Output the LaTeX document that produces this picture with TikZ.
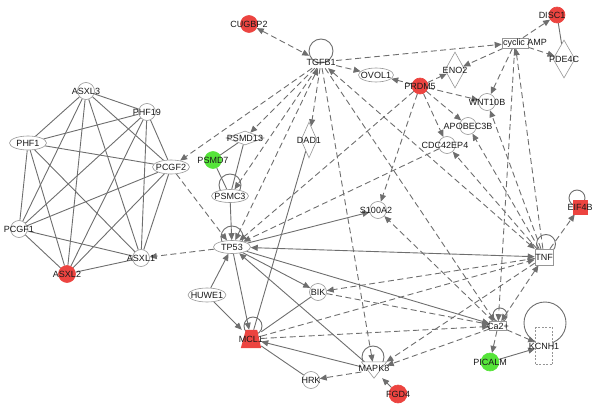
\documentclass[tikz,border=0pt]{standalone}
\usepackage{fontspec}
\setmainfont{Liberation Sans}
\usetikzlibrary{arrows.meta,shapes.geometric,backgrounds,calc}
\definecolor{ln}{RGB}{110,110,110}
\definecolor{bd}{RGB}{150,150,150}
\definecolor{nred}{RGB}{236,68,64}
\definecolor{ngreen}{RGB}{86,228,58}
\definecolor{txt}{RGB}{25,25,25}
\begin{document}
\begin{tikzpicture}[x=1pt,y=-1pt,
  base/.style={draw=bd, fill=white, inner sep=0pt, line width=0.6pt},
  gc/.style={base, circle, minimum size=17pt},
  rc/.style={gc, fill=nred, draw=nred},
  grc/.style={gc, fill=ngreen, draw=ngreen},
  ge/.style={base, ellipse, minimum width=37pt, minimum height=14pt},
  gd/.style={base, diamond},
  hid/.style={inner sep=0pt, rectangle},
  lbl/.style={font=\fontsize{9}{10}\selectfont, text=txt, inner sep=0pt},
  sol/.style={draw=ln, line width=0.9pt},
  das/.style={sol, dash pattern=on 6pt off 3.5pt},
  fw/.style={-{Triangle[length=7pt,width=6pt]}},
  bi/.style={{Triangle[length=7pt,width=6pt]}-{Triangle[length=7pt,width=6pt]}},
  lp/.style={draw=ln, line width=0.9pt}
]
\useasboundingbox (0,0) rectangle (600,412);

% left cluster
\node[gc, label={[lbl]center:ASXL3}] (asxl3) at (86,91) {};
\node[gc, label={[lbl]center:PHF19}] (phf19) at (147,112) {};
\node[ge, label={[lbl]center:PHF1}] (phf1) at (28,143) {};
\node[ge, label={[lbl]center:PCGF2}] (pcgf2) at (171,167) {};
\node[gc, label={[lbl]center:PCGF1}] (pcgf1) at (19,229) {};
\node[rc, label={[lbl]center:ASXL2}] (asxl2) at (67,274) {};
\node[gc, label={[lbl]center:ASXL1}] (asxl1) at (141,258) {};

% upper middle
\node[rc, label={[lbl]center:CUGBP2}] (cugbp2) at (249,24) {};
\node[hid, minimum width=30pt, minimum height=12pt, label={[lbl]center:TGFB1}] (tgfb1) at (321,62) {};
\node[ge, minimum width=35pt, label={[lbl]center:OVOL1}] (ovol1) at (376,75) {};
\node[rc, minimum size=16pt, label={[lbl]center:PRDM5}] (prdm5) at (420,86) {};
\node[gd, minimum width=20pt, minimum height=36pt, label={[lbl]center:ENO2}] (eno2) at (455,70) {};
\node[base, rectangle, minimum width=26pt, minimum height=10pt, label={[lbl,xshift=10pt]center:cyclic AMP}] (camp) at (515,43) {};
\node[rc, minimum size=16pt, label={[lbl,xshift=-5pt]center:DISC1}] (disc1) at (557,15) {};
\node[gd, minimum width=22pt, minimum height=38pt, label={[lbl]center:PDE4C}] (pde4c) at (564,59) {};
\node[gc, label={[lbl]center:WNT10B}] (wnt10b) at (487,102) {};
\node[gc, label={[lbl]center:APOBEC3B}] (apobec3b) at (468,126) {};
\node[gc, label={[lbl,xshift=-2pt]center:CDC42EP4}] (cdc42ep4) at (447,145) {};
\node[gc, label={[lbl,xshift=-2pt]center:S100A2}] (s100a2) at (378,210) {};

% proteasome group
\node[gd, minimum width=38pt, minimum height=14pt, label={[lbl]center:PSMD13}] (psmd13) at (245,138) {};
\node[grc, label={[lbl]center:PSMD7}] (psmd7) at (213,160) {};
\node[ge, minimum height=13pt, label={[lbl]center:PSMC3}] (psmc3) at (230,196) {};
\node[gd, minimum width=16pt, minimum height=36pt, label={[lbl]center:DAD1}] (dad1) at (309,140) {};

% lower middle
\node[ge, minimum height=13pt, label={[lbl]center:TP53}] (tp53) at (232,247) {};
\node[ge, minimum width=38pt, label={[lbl]center:HUWE1}] (huwe1) at (207,295) {};
\node[gc, label={[lbl]center:BIK}] (bik) at (318,292) {};
\node[hid, minimum width=20pt, minimum height=18pt, label={[lbl]center:MCL1}] (mcl1) at (251,339) {};
\node[gc, label={[lbl]center:HRK}] (hrk) at (311,380) {};
\node[hid, minimum width=25pt, minimum height=16pt, label={[lbl,yshift=2pt]center:MAPK8}] (mapk8) at (374,370) {};
\node[rc, minimum size=18pt, label={[lbl]center:FGD4}] (fgd4) at (398,394) {};

% right side
\node[base, rectangle, minimum width=17pt, minimum height=9pt, label={[lbl]center:Ca2+}] (ca) at (498,326) {};
\node[grc, minimum size=18pt, label={[lbl]center:PICALM}] (picalm) at (490,362) {};
\node[base, rectangle, dash pattern=on 2pt off 1.5pt, minimum width=17pt, minimum height=37pt, label={[lbl]center:KCNH1}] (kcnh1) at (544,346) {};
\node[base, rectangle, minimum width=18pt, minimum height=16pt, label={[lbl]center:TNF}] (tnf) at (544,257) {};
\node[base, rectangle, fill=nred, draw=nred, minimum size=14pt, label={[lbl]center:EIF4B}] (eif4b) at (580,207) {};

\begin{pgfonlayer}{background}
% clique
\foreach \u/\v in {asxl3/phf19, asxl3/phf1, asxl3/pcgf2, asxl3/pcgf1, asxl3/asxl2, asxl3/asxl1,
  phf19/phf1, phf19/pcgf2, phf19/pcgf1, phf19/asxl2, phf19/asxl1,
  phf1/pcgf2, phf1/pcgf1, phf1/asxl2, phf1/asxl1,
  pcgf2/pcgf1, pcgf2/asxl2, pcgf2/asxl1,
  pcgf1/asxl2, pcgf1/asxl1, asxl2/asxl1}
  \draw[sol] (\u) -- (\v);

% dashed directed
\foreach \u/\v in {tgfb1/ovol1, tgfb1/camp, tgfb1/pcgf2, tgfb1/psmd13, tgfb1/psmc3, tgfb1/dad1,
  tgfb1/mapk8, tgfb1/ca, prdm5/ovol1, prdm5/eno2, prdm5/wnt10b, prdm5/apobec3b, prdm5/cdc42ep4,
  prdm5/s100a2, prdm5/tp53, camp/eno2, camp/wnt10b, camp/disc1, camp/pde4c, tnf/camp, camp/ca,
  tnf/wnt10b, tnf/apobec3b, tnf/cdc42ep4, tnf/eif4b, ca/s100a2, tnf/bik, tnf/mapk8, mcl1/tnf,
  mcl1/ca, bik/ca, ca/mapk8, ca/picalm, ca/kcnh1, mapk8/hrk, fgd4/mapk8, pcgf2/tp53, tp53/asxl1,
  cdc42ep4/tp53}
  \draw[das,fw] (\u) -- (\v);
% dashed both ways
\foreach \u/\v in {cugbp2/tgfb1, tgfb1/tp53, tgfb1/tnf, tnf/ca}
  \draw[das,bi] (\u) -- (\v);

% solid directed
\foreach \u/\v in {psmc3/tp53, tp53/s100a2, tp53/bik, tp53/ca, mapk8/tp53, mapk8/mcl1, tp53/mcl1,
  huwe1/tp53, huwe1/mcl1, picalm/kcnh1}
  \draw[sol,fw] (\u) -- (\v);
\draw[sol,bi] (tp53) -- (tnf);
% solid plain
\foreach \u/\v in {psmd7/psmd13, psmd7/psmc3, psmd13/psmc3, dad1/mcl1, bik/mcl1, hrk/mcl1, disc1/pde4c}
  \draw[sol] (\u) -- (\v);

% self loops
\draw[lp] ([shift={(0,-11)}]tgfb1.center) circle (12pt);
\draw[lp] ([shift={(0,-11)}]psmc3.center) circle (11pt);
\draw[lp] ([shift={(0,-10)}]tp53.center) circle (11pt);
\draw[lp] ([shift={(2,-13)}]mcl1.center) circle (9pt);
\draw[lp] ([shift={(-1,-13)}]mapk8.center) circle (11pt);
\draw[lp] ([shift={(2,-11)}]ca.center) circle (7pt);
\draw[lp] ([shift={(2,-13)}]tnf.center) circle (9.5pt);
\draw[lp] ([shift={(-3,-9)}]eif4b.center) circle (8pt);
\draw[lp] ([shift={(1,-23)}]kcnh1.center) circle (21pt);

% MAPK8 kinase triangle, MCL1 transporter trapezoid
\draw[base] (mapk8.north west) -- (mapk8.north east) -- (mapk8.south) -- cycle;
\fill[nred] ([xshift=5pt]mcl1.north west) -- ([xshift=-4pt]mcl1.north east) -- (mcl1.south east) -- (mcl1.south west) -- cycle;
\end{pgfonlayer}
\end{tikzpicture}
\end{document}
